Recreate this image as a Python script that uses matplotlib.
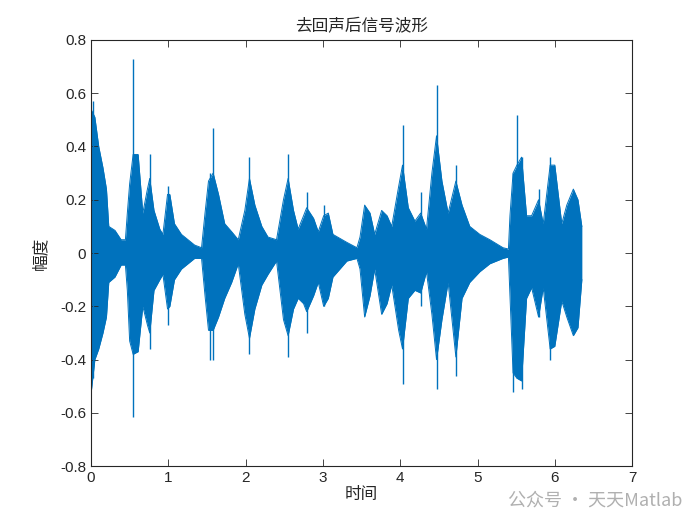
import matplotlib
matplotlib.use('Agg')
import matplotlib.pyplot as plt
import numpy as np

# dense body of the waveform (time in s, amplitude)
t = [0.0, 0.05, 0.10, 0.155, 0.20, 0.23, 0.31, 0.39, 0.445, 0.47, 0.50, 0.545,
     0.61, 0.67, 0.73, 0.76, 0.815, 0.89, 0.93, 0.99, 1.02, 1.08, 1.17, 1.34,
     1.43, 1.475, 1.52, 1.58, 1.65, 1.73, 1.82, 1.905, 1.99, 2.05, 2.12, 2.21,
     2.29, 2.40, 2.49, 2.55, 2.62, 2.68, 2.75, 2.79, 2.88, 2.94, 3.01, 3.07,
     3.13, 3.31, 3.44, 3.48, 3.54, 3.61, 3.67, 3.76, 3.83, 3.89, 3.98, 4.03,
     4.105, 4.19, 4.265, 4.34, 4.41, 4.47, 4.54, 4.62, 4.72, 4.80, 4.90, 5.03,
     5.16, 5.33, 5.40, 5.42, 5.46, 5.51, 5.57, 5.635, 5.70, 5.79, 5.85, 5.94,
     6.00, 6.09, 6.155, 6.24, 6.30, 6.35]
upper = [0.54, 0.51, 0.40, 0.32, 0.24, 0.10, 0.085, 0.05, 0.05, 0.15, 0.26, 0.37,
         0.37, 0.15, 0.24, 0.28, 0.16, 0.09, 0.07, 0.22, 0.22, 0.11, 0.07, 0.03,
         0.02, 0.15, 0.27, 0.30, 0.22, 0.11, 0.08, 0.05, 0.16, 0.28, 0.18, 0.10,
         0.06, 0.05, 0.20, 0.28, 0.16, 0.09, 0.14, 0.17, 0.13, 0.08, 0.14, 0.15,
         0.07, 0.04, 0.02, 0.06, 0.18, 0.15, 0.07, 0.16, 0.14, 0.10, 0.25, 0.33,
         0.17, 0.12, 0.15, 0.09, 0.30, 0.44, 0.27, 0.15, 0.27, 0.18, 0.10, 0.07,
         0.05, 0.02, 0.015, 0.14, 0.30, 0.33, 0.36, 0.14, 0.14, 0.20, 0.11, 0.33,
         0.33, 0.11, 0.18, 0.24, 0.20, 0.10]
lower = [-0.53, -0.40, -0.36, -0.30, -0.24, -0.11, -0.09, -0.045, -0.045, -0.14, -0.33, -0.38,
         -0.37, -0.20, -0.27, -0.30, -0.14, -0.10, -0.08, -0.21, -0.20, -0.10, -0.06, -0.02,
         -0.02, -0.16, -0.29, -0.29, -0.24, -0.17, -0.11, -0.04, -0.23, -0.32, -0.21, -0.12,
         -0.08, -0.03, -0.25, -0.31, -0.21, -0.17, -0.19, -0.22, -0.16, -0.11, -0.20, -0.17,
         -0.09, -0.03, -0.02, -0.06, -0.24, -0.16, -0.06, -0.23, -0.19, -0.12, -0.29, -0.36,
         -0.17, -0.14, -0.15, -0.07, -0.23, -0.40, -0.25, -0.11, -0.39, -0.17, -0.11, -0.07,
         -0.04, -0.02, -0.015, -0.16, -0.45, -0.47, -0.48, -0.17, -0.13, -0.24, -0.13, -0.36,
         -0.35, -0.18, -0.24, -0.31, -0.28, -0.10]

# thin single-sample spikes sticking out of the body
spike_t = [0.03, 0.545, 0.76, 0.99, 1.535, 1.58, 2.05, 2.55, 2.79, 3.01,
           4.03, 4.265, 4.47, 4.72, 5.46, 5.51, 5.57, 5.79, 5.94]
spike_hi = [0.57, 0.73, 0.37, 0.25, 0.30, 0.47, 0.36, 0.37, 0.23, 0.18,
            0.48, 0.23, 0.63, 0.33, 0.30, 0.52, 0.36, 0.24, 0.36]
spike_lo = [-0.47, -0.615, -0.36, -0.27, -0.40, -0.40, -0.38, -0.39, -0.30, -0.20,
            -0.49, -0.20, -0.51, -0.46, -0.52, -0.47, -0.51, -0.24, -0.40]

xticks = [0, 1, 2, 3, 4, 5, 6, 7]
yticks = [-0.8, -0.6, -0.4, -0.2, 0, 0.2, 0.4, 0.6, 0.8]

plt.rcParams['font.family'] = ['Liberation Sans', 'Noto Sans CJK SC', 'DejaVu Sans']
cjk = ['Noto Sans CJK SC', 'DejaVu Sans']

fig = plt.figure(figsize=(7, 5.25), dpi=100)
ax = fig.add_axes([0.13, 0.112, 0.773, 0.812])

blue = '#0072BD'
ax.fill_between(t, lower, upper, color=blue, linewidth=0)
ax.plot(t, upper, color=blue, lw=0.7)
ax.plot(t, lower, color=blue, lw=0.7)
ax.vlines(spike_t, spike_lo, spike_hi, color=blue, lw=1.0)

ax.set_xlim(0, 7)
ax.set_ylim(-0.8, 0.8)
ax.set_xticks(xticks)
ax.set_yticks(yticks)
ax.set_xticklabels([str(v) for v in xticks])
ax.set_yticklabels(['-0.8', '-0.6', '-0.4', '-0.2', '0', '0.2', '0.4', '0.6', '0.8'])
ax.tick_params(direction='in', top=True, right=True, length=5, width=0.6,
               labelsize=11, colors='#262626')
for s in ax.spines.values():
    s.set_linewidth(0.8)
    s.set_color('#262626')

ax.set_title('去回声后信号波形', family=cjk, fontsize=12, color='#262626', pad=6)
ax.set_xlabel('时间', family=cjk, fontsize=12, color='#262626', labelpad=1)
ax.set_ylabel('幅度', family=cjk, fontsize=12, color='#262626', labelpad=8)

fig.text(0.975, 0.03, '公众号 · 天天Matlab', family=cjk, fontsize=13,
         color='#b0b0b0', ha='right', va='bottom')

fig.savefig('out.png', dpi=100)
